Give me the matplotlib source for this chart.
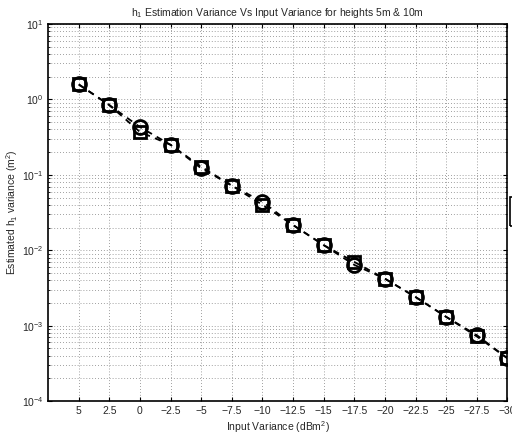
import matplotlib
matplotlib.use("Agg")
import matplotlib.pyplot as plt
from matplotlib.patches import Rectangle
from matplotlib.ticker import LogLocator, NullFormatter

plt.rcParams['font.family'] = ['Liberation Sans', 'DejaVu Sans']
plt.rcParams['mathtext.fontset'] = 'custom'
plt.rcParams['mathtext.rm'] = 'Liberation Sans'
plt.rcParams['mathtext.it'] = 'Liberation Sans'

# входная дисперсия (дБм^2)
input_var = [5, 2.5, 0, -2.5, -5, -7.5, -10, -12.5, -15, -17.5, -20, -22.5, -25, -27.5, -30]
# оценка дисперсии h1 для высоты 5 м и 10 м
var_5m = [1.58, 0.84, 0.43, 0.25, 0.122, 0.072, 0.044, 0.0216, 0.0117, 0.0064, 0.0042, 0.0024, 0.00131, 0.00075, 0.00037]
var_10m = [1.58, 0.84, 0.37, 0.25, 0.128, 0.072, 0.040, 0.0216, 0.0117, 0.0070, 0.0042, 0.0024, 0.00131, 0.00072, 0.00037]
xtick_labels = ['5', '2.5', '0', '−2.5', '−5', '−7.5', '−10', '−12.5', '−15', '−17.5', '−20', '−22.5', '−25', '−27.5', '−30']

fig = plt.figure(figsize=(5.12, 4.36), dpi=100)
ax = fig.add_axes([0.094, 0.080, 0.897, 0.865])

ax.semilogy(input_var, var_5m, 'k--', marker='o', markersize=10, markerfacecolor='none',
            markeredgewidth=2, linewidth=1.3, dashes=(3.5, 3), label='h = 5m')
ax.semilogy(input_var, var_10m, 'k--', marker='s', markersize=9, markerfacecolor='none',
            markeredgewidth=2, linewidth=1.3, dashes=(3.5, 3), label='h = 10m')

ax.set_xlim(7.5, -30)
ax.set_ylim(1e-4, 1e1)
ax.set_xticks(input_var)
ax.set_xticklabels(xtick_labels)
ax.yaxis.set_major_locator(LogLocator(base=10, numticks=10))
ax.yaxis.set_minor_locator(LogLocator(base=10, subs=range(2, 10), numticks=10))
ax.yaxis.set_minor_formatter(NullFormatter())

ax.grid(True, which='major', linestyle=(0, (1, 2.5)), color='0.5', linewidth=0.6)
ax.grid(True, which='minor', axis='y', linestyle=(0, (1, 2.5)), color='0.5', linewidth=0.6)
ax.tick_params(which='both', direction='in', top=True, right=True, labelsize=7.5, colors='0.15')
ax.tick_params(which='major', length=3, color='k')
ax.tick_params(which='minor', length=1.5, color='k')
for s in ax.spines.values():
    s.set_linewidth(1.2)

ax.set_title('h$_1$ Estimation Variance Vs Input Variance for heights 5m & 10m', fontsize=7.5, color='0.15')
ax.set_xlabel('Input Variance (dBm$^2$)', fontsize=7.5, labelpad=2, color='0.15')
ax.set_ylabel('Estimated h$_1$ variance (m$^2$)', fontsize=7.5, labelpad=1, color='0.15')

# рамка легенды справа от осей (видна только её левая кромка)
ax.add_patch(Rectangle((1.006, 0.464), 0.1, 0.077, transform=ax.transAxes, fill=False,
                       edgecolor='k', linewidth=1.2, clip_on=False))

fig.savefig('out.png', dpi=100)
